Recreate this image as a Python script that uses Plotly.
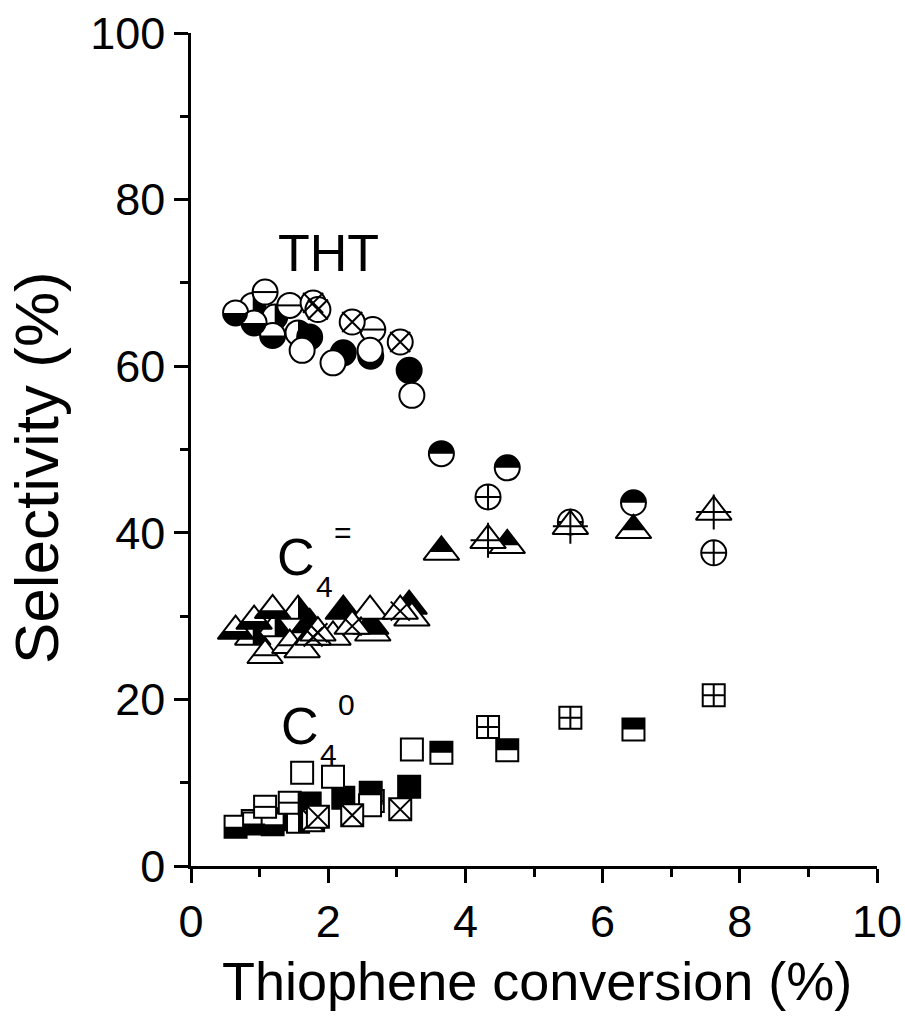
import numpy as np
import plotly.graph_objects as go

# ---------------- data ----------------
# each catalyst series: x = thiophene conversion (%), selectivities (%) to THT, C4= and C4(0)
s2_x = [0.90, 1.22, 1.56]
s2_tht = [67.3, 65.9, 64.0]
s2_c4e = [27.5, 28.5, 30.6]
s2_c40 = [5.4, 5.6, 5.3]

s1_x = [0.65, 0.92, 1.19]
s1_tht = [66.4, 65.2, 63.7]
s1_c4e = [28.2, 29.4, 30.7]
s1_c40 = [4.7, 5.1, 5.0]

s6_x = [1.08, 1.44, 2.65]
s6_tht = [68.9, 67.3, 64.4]
s6_c4e = [25.3, 26.5, 28.0]
s6_c40 = [7.1, 7.6, 7.8]

s3_x = [1.73, 2.22, 2.62, 3.18]
s3_tht = [63.5, 61.6, 61.2, 59.5]
s3_c4e = [29.0, 30.6, 28.8, 31.2]
s3_c40 = [7.5, 8.2, 8.8, 9.5]

s4_x = [1.62, 2.07, 2.61, 3.22]
s4_tht = [61.9, 60.4, 61.9, 56.5]
s4_c4e = [26.0, 27.5, 30.6, 29.8]
s4_c40 = [11.2, 10.7, 7.3, 14.0]

s5_x = [1.78, 1.85, 2.35, 3.05]
s5_tht = [67.6, 66.8, 65.3, 62.9]
s5_c4e = [27.5, 28.0, 28.8, 30.6]
s5_c40 = [5.5, 5.9, 6.1, 6.8]

s7_x = [3.65, 4.61, 6.45]
s7_tht = [49.5, 47.8, 43.6]
s7_c4e = [37.7, 38.5, 40.3]
s7_c40 = [13.6, 13.9, 16.4]

s8_x = [4.33, 5.53, 7.62]
s8_tht = [44.3, 41.3, 37.6]
s8_c4e = [39.1, 40.8, 42.5]
s8_c40 = [16.7, 17.8, 20.5]

x_ticks = [0, 2, 4, 6, 8, 10]
y_ticks = [0, 20, 40, 60, 80, 100]

# ---------------- layout geometry ----------------
W, H = 905, 1022
ML, MR, MT, MB = 191, 28, 33, 156
PW, PH = W - ML - MR, H - MT - MB
XR, YR = (0, 10), (0, 100)
KX = PW / (XR[1] - XR[0])
KY = PH / (YR[1] - YR[0])

SZ = {"circle": 25, "square": 22, "triangle-up": 31}
LW = 2

fig = go.Figure()


def half_polys(xs, ys, shape, half):
    """Black half of a half-filled marker, built around each data point."""
    s = SZ[shape]
    r = s / 2
    px, py = [], []
    for x0, y0 in zip(xs, ys):
        if shape == "circle":
            if half == "bottom":
                th = np.linspace(0, np.pi, 40)
            elif half == "top":
                th = np.linspace(np.pi, 2 * np.pi, 40)
            else:
                th = np.linspace(-np.pi / 2, np.pi / 2, 40)
            pts = list(zip(r * np.cos(th), r * np.sin(th)))
        elif shape == "square":
            if half == "bottom":
                pts = [(-r, 0), (r, 0), (r, r), (-r, r)]
            elif half == "top":
                pts = [(-r, -r), (r, -r), (r, 0), (-r, 0)]
            else:
                pts = [(0, -r), (r, -r), (r, r), (0, r)]
        else:
            rt = r * 2 / np.sqrt(3)
            if half == "bottom":
                pts = [(-2 * rt / 3, 0), (2 * rt / 3, 0), (rt, r / 2), (-rt, r / 2)]
            elif half == "top":
                pts = [(0, -r), (2 * rt / 3, 0), (-2 * rt / 3, 0)]
            else:
                pts = [(0, -r), (rt, r / 2), (0, r / 2)]
        for dx, dy in pts + [pts[0]]:
            px.append(x0 + dx / KX)
            py.append(y0 - dy / KY)
        px.append(None)
        py.append(None)
    return px, py


def add_markers(xs, ys, symbol, size, fill, name):
    fig.add_trace(go.Scatter(
        x=xs, y=ys, mode="markers", name=name, showlegend=False, hoverinfo="skip",
        marker=dict(symbol=symbol, size=size, color=fill,
                    line=dict(color="black", width=LW))))


def add_series(xs, ys, shape, style, name):
    s = SZ[shape]
    if style == "full":
        add_markers(xs, ys, shape, s, "black", name)
        return
    if style == "cross" and shape != "triangle-up":
        add_markers(xs, ys, shape + "-cross", s, "white", name)
        return
    if style == "x" and shape == "square":
        add_markers(xs, ys, "square-x", s, "white", name)
        return
    add_markers(xs, ys, shape, s, "white", name)
    if style in ("bottom", "top", "right"):
        px, py = half_polys(xs, ys, shape, style)
        fig.add_trace(go.Scatter(x=px, y=py, mode="lines", fill="toself",
                                 fillcolor="black", line=dict(width=0, color="black"),
                                 showlegend=False, hoverinfo="skip"))
    elif style == "line":
        half_len = s / 2 if shape != "triangle-up" else (2 * (s / 2) * 2 / np.sqrt(3) / 3)
        add_markers(xs, ys, "line-ew-open", half_len / 0.7, "black", name)
    elif style == "x":
        add_markers(xs, ys, "x-thin-open", 20 if shape == "circle" else 19, "black", name)
    elif style == "cross":
        add_markers(xs, ys, "cross-thin-open", 25, "black", name)


series = [
    ("S2", "right", s2_x, s2_tht, s2_c4e, s2_c40),
    ("S1", "bottom", s1_x, s1_tht, s1_c4e, s1_c40),
    ("S6", "line", s6_x, s6_tht, s6_c4e, s6_c40),
    ("S3", "full", s3_x, s3_tht, s3_c4e, s3_c40),
    ("S4", "open", s4_x, s4_tht, s4_c4e, s4_c40),
    ("S5", "x", s5_x, s5_tht, s5_c4e, s5_c40),
    ("S7", "top", s7_x, s7_tht, s7_c4e, s7_c40),
    ("S8", "cross", s8_x, s8_tht, s8_c4e, s8_c40),
]

for name, style, xs, tht, c4e, c40 in series:
    add_series(xs, tht, "circle", style, name + " THT")
    add_series(xs, c4e, "triangle-up", style, name + " C4=")
    add_series(xs, c40, "square", style, name + " C4")

FONT = "Liberation Sans, Arial, sans-serif"

annots = [
    dict(text="THT", x=2.0, y=73.6, size=52),
    dict(text="C", x=1.53, y=37.1, size=52),
    dict(text="4", x=1.95, y=33.5, size=30),
    dict(text="=", x=2.22, y=40.0, size=30),
    dict(text="C", x=1.59, y=16.8, size=52),
    dict(text="4", x=2.0, y=13.4, size=30),
    dict(text="0", x=2.27, y=19.4, size=30),
]
for a in annots:
    fig.add_annotation(x=a["x"], y=a["y"], text=a["text"], showarrow=False,
                       xref="x", yref="y", xanchor="center", yanchor="middle",
                       font=dict(family=FONT, size=a["size"], color="black"))


def px_to_paper_x(px):
    return (px - ML) / PW


def px_to_paper_y(py):
    return (MT + PH - py) / PH


# axis titles (placed as paper annotations to match the reference positions)
fig.add_annotation(x=px_to_paper_x(37), y=px_to_paper_y(468), xref="paper", yref="paper",
                   text="Selectivity (%)", textangle=-90, showarrow=False,
                   xanchor="center", yanchor="middle",
                   font=dict(family=FONT, size=62, color="black"))
fig.add_annotation(x=px_to_paper_x(537), y=px_to_paper_y(981), xref="paper", yref="paper",
                   text="Thiophene conversion (%)", showarrow=False,
                   xanchor="center", yanchor="middle",
                   font=dict(family=FONT, size=54, color="black"))

axis_common = dict(
    showline=True, linecolor="black", linewidth=2.5, mirror=False,
    ticks="outside", ticklen=14, tickwidth=2.5, tickcolor="black",
    showgrid=False, zeroline=False,
    tickfont=dict(family=FONT, size=45, color="black"),
)

fig.update_xaxes(range=list(XR), tickvals=x_ticks, ticktext=[str(v) for v in x_ticks],
                 minor=dict(dtick=1, tick0=0, ticks="outside", ticklen=8, tickwidth=2.5,
                            tickcolor="black", showgrid=False),
                 **axis_common)
fig.update_yaxes(range=list(YR), tickvals=y_ticks, ticktext=[str(v) for v in y_ticks],
                 minor=dict(dtick=10, tick0=0, ticks="outside", ticklen=8, tickwidth=2.5,
                            tickcolor="black", showgrid=False),
                 **axis_common)

fig.update_layout(
    width=W, height=H,
    margin=dict(l=ML, r=MR, t=MT, b=MB, autoexpand=False),
    paper_bgcolor="white", plot_bgcolor="white",
    showlegend=False,
)

fig.write_html("out.html", config={"displayModeBar": False},
               post_script="document.body.style.margin='0px';document.body.style.overflow='hidden';")
